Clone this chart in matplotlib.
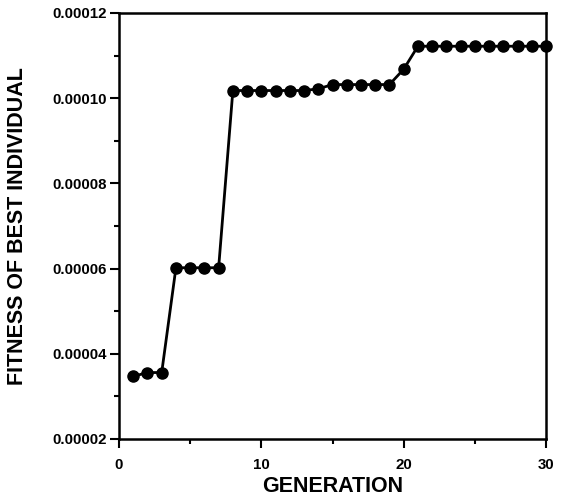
import numpy as np
from matplotlib import pyplot as plt
from matplotlib.ticker import MultipleLocator, FormatStrFormatter

plt.rcParams['font.family'] = ['Liberation Sans', 'DejaVu Sans']
plt.rcParams['font.weight'] = 'bold'

generation = np.arange(1, 31)
fitness = [0.0000347, 0.0000356, 0.0000356, 0.0000602, 0.0000602, 0.0000602, 0.0000602,
           0.0001018, 0.0001018, 0.0001018, 0.0001018, 0.0001018, 0.0001018, 0.0001022,
           0.0001032, 0.0001032, 0.0001032, 0.0001032, 0.0001032, 0.0001068,
           0.0001122, 0.0001122, 0.0001122, 0.0001122, 0.0001122, 0.0001122, 0.0001122,
           0.0001122, 0.0001122, 0.0001122]

fig = plt.figure(figsize=(5.63, 4.96), dpi=100)
ax = fig.add_axes([119/563, 1 - 439/496, (546-119)/563, (439-13)/496])

ax.plot(generation, fitness, color='black', lw=2, marker='o', ms=8, clip_on=False, zorder=3)

ax.set_xlim(0, 30)
ax.set_ylim(0.00002, 0.00012)
ax.xaxis.set_major_locator(MultipleLocator(10))
ax.xaxis.set_minor_locator(MultipleLocator(5))
ax.yaxis.set_major_locator(MultipleLocator(0.00002))
ax.yaxis.set_minor_locator(MultipleLocator(0.00001))
ax.yaxis.set_major_formatter(FormatStrFormatter('%.5f'))

for s in ax.spines.values():
    s.set_linewidth(1.8)
ax.tick_params(which='major', direction='out', length=6.5, width=1.5, labelsize=10.8)
ax.tick_params(which='minor', direction='out', length=3.5, width=1.5)
ax.tick_params(axis='y', pad=2.5)
ax.tick_params(axis='x', pad=7)

ax.set_xlabel('GENERATION', fontsize=15.5, fontweight='bold', labelpad=3)
ax.set_ylabel('FITNESS OF BEST INDIVIDUAL', fontsize=15.5, fontweight='bold', labelpad=17)

fig.savefig('out.png', dpi=100)
